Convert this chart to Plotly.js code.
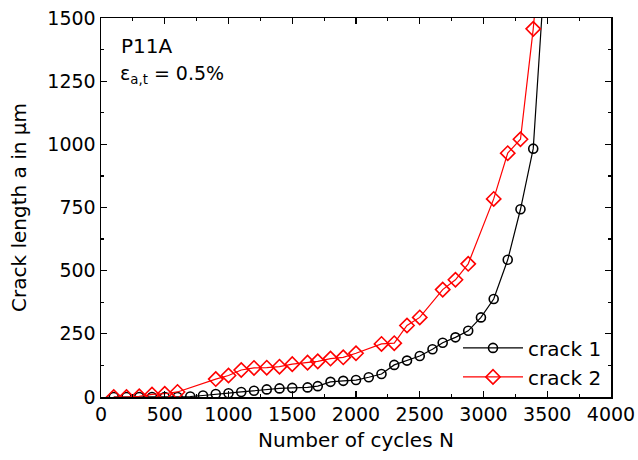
<!DOCTYPE html>
<html>
<head>
<meta charset="utf-8">
<script src="https://cdn.plot.ly/plotly-3.0.1.min.js"></script>
<style>html,body{margin:0;padding:0;background:#fff;}#chart{width:638px;height:460px;}</style>
</head>
<body>
<div id="chart"></div>
<script>
const crack1Cycles = [100,200,300,400,500,600,700,800,900,1000,1100,1200,1300,1400,1500,1620,1700,1800,1900,2000,2100,2200,2300,2400,2500,2600,2680,2780,2880,2980,3080,3190,3290,3390,3480];
const crack1Length = [0,0,0,0,0,0,2,6,12,15,20,25,30,34,36,38,43,60,64,67,78,91,127,144,162,189,215,236,262,315,388,543,743,983,1680];
const crack2Cycles = [100,200,300,400,500,600,900,1000,1100,1200,1300,1400,1500,1620,1700,1800,1900,2000,2200,2300,2400,2500,2680,2780,2880,3080,3190,3290,3390,3480];
const crack2Length = [0,0,3,10,13,20,71,85,107,115,116,120,130,136,141,152,157,173,210,213,283,315,425,464,527,784,965,1020,1457,1960];
const seriesNames = ["crack 1","crack 2"];
const xTicks = [0,500,1000,1500,2000,2500,3000,3500,4000];
const yTicks = [0,250,500,750,1000,1250,1500];

const FONT = "DejaVu Sans, Arial, sans-serif";

const traces = [
  {x: crack1Cycles, y: crack1Length, name: seriesNames[0], type: 'scatter', mode: 'lines+markers',
   line: {color: '#000000', width: 1.2},
   marker: {symbol: 'circle-open', size: 9, color: '#000000', line: {width: 1.6, color: '#000000'}}},
  {x: crack2Cycles, y: crack2Length, name: seriesNames[1], type: 'scatter', mode: 'lines+markers',
   line: {color: '#ff0000', width: 1.2},
   marker: {symbol: 'diamond-open', size: 11, color: '#ff0000', line: {width: 1.6, color: '#ff0000'}}}
];

const axisCommon = {
  showgrid: false, zeroline: false, showline: true, linecolor: '#000', linewidth: 1.5,
  mirror: 'ticks', ticks: 'inside', ticklen: 6, tickwidth: 1.2, tickcolor: '#000',
  tickfont: {family: FONT, size: 19, color: '#000'}
};

const layout = {
  width: 638, height: 460,
  margin: {l: 101, r: 27, t: 18, b: 63},
  paper_bgcolor: '#fff', plot_bgcolor: '#fff',
  font: {family: FONT, color: '#000'},
  showlegend: true,
  legend: {x: 0.70, xanchor: 'left', y: 0.181, yanchor: 'top', bgcolor: 'rgba(0,0,0,0)',
           font: {family: FONT, size: 20, color: '#000'}, itemwidth: 60},
  xaxis: Object.assign({}, axisCommon, {
    range: [0, 4000], tickvals: xTicks, ticktext: xTicks.map(String),
    minor: {ticks: 'inside', ticklen: 3, dtick: 250, tickwidth: 1.2, tickcolor: '#000'},
    title: {text: 'Number of cycles N', font: {family: FONT, size: 20, color: '#000'}, standoff: 8}
  }),
  yaxis: Object.assign({}, axisCommon, {
    range: [0, 1500], tickvals: yTicks, ticktext: yTicks.map(String),
    minor: {ticks: 'inside', ticklen: 3, dtick: 125, tickwidth: 1.2, tickcolor: '#000'},
    title: {text: 'Crack length a in µm', font: {family: FONT, size: 20, color: '#000'}, standoff: 15}
  }),
  annotations: [
    {xref: 'paper', yref: 'paper', x: 0.035, y: 0.925, xanchor: 'left', yanchor: 'middle', showarrow: false,
     text: 'P11A', font: {family: FONT, size: 20, color: '#000'}},
    {xref: 'paper', yref: 'paper', x: 0.033, y: 0.85, xanchor: 'left', yanchor: 'middle', showarrow: false,
     text: 'ε<sub>a,t</sub> = 0.5%', font: {family: FONT, size: 19, color: '#000'}}
  ]
};

Plotly.newPlot('chart', traces, layout, {displayModeBar: false, staticPlot: true});
</script>
</body>
</html>
